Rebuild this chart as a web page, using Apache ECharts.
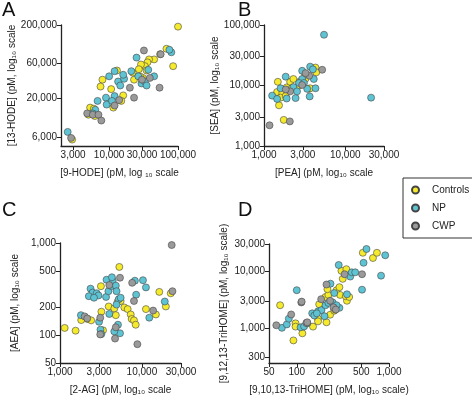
<!DOCTYPE html>
<html>
<head>
<meta charset="utf-8">
<script src="https://cdn.jsdelivr.net/npm/echarts@6/dist/echarts.min.js"></script>
<style>html,body{margin:0;padding:0;background:#fff}#app{width:472px;height:400px}</style>
</head>
<body>
<div id="app"></div>
<script>
// A: 9-HODE vs 13-HODE
var aControls = [[100000,190000],[85000,55000],[68000,95000],[55000,80000],[45000,68000],[38000,68000],[36000,62000],[33000,55000],[29000,58000],[31000,38000],[28000,40000],[23000,36000],[22000,45000],[27000,50000],[13000,48000],[10700,26800],[16000,22000],[15000,18500],[11500,15000],[8000,36000],[7500,29000],[5300,15000],[6000,14500],[5000,12000],[6200,11500],[2900,5500],[35000,48000]]
var aNP = [[2500,7000],[6300,14000],[6800,18500],[5800,12500],[10000,40000],[12000,47000],[9000,20500],[9200,16500],[12000,21500],[13500,34000],[14500,30000],[16500,37000],[16000,42000],[21000,47000],[25000,72000],[26500,40000],[29500,32000],[33000,34000],[35000,30000],[37000,49000],[45000,40000],[80000,85000],[75000,92000],[11000,18500]]
var aCWP = [[2800,5800],[4800,12500],[5800,12000],[7000,12000],[7700,10000],[12000,16000],[14000,19000],[20000,28000],[23000,20500],[32000,90000],[39000,38000],[54000,28000],[56000,80000],[30000,36000]]
// B: PEA vs SEA
var bControls = [[1480,11500],[1450,7800],[1680,7500],[1600,6300],[1850,6700],[1530,4700],[1750,2700],[1900,9300],[2100,11500],[2300,12800],[2450,8800],[2700,10000],[2800,11800],[3250,13000],[3200,15500],[3550,8800],[4000,19000],[4300,19800],[4400,16500],[3700,9000],[2200,9000]]
var bNP = [[5480,69000],[20800,6300],[1260,6800],[1450,6000],[1900,6100],[2450,6200],[3650,6600],[4300,9000],[4100,12800],[3700,20500],[4000,18500],[2950,17500],[1850,14000],[1600,9000],[2950,12800],[3400,8800],[2700,11000],[2300,9400],[2550,8000],[3100,11000]]
var bCWP = [[980,1120],[1170,2200],[2080,2550],[5200,18200],[3600,14500],[3250,16000],[2100,8000],[1850,8600],[2950,10200]]
// C: 2-AG vs AEA
var cControls = [[1140,120],[1550,112],[1815,146],[2170,150],[2400,145],[3160,340],[3200,180],[3350,113],[3930,205],[4600,195],[5300,550],[5050,230],[4800,165],[5500,235],[6100,200],[6700,192],[7300,168],[7500,150],[8000,145],[8400,130],[11200,192],[14800,168],[16300,295],[19600,205],[22500,285]]
var cNP = [[1800,165],[2360,320],[2500,290],[2250,265],[2800,285],[2950,270],[2600,255],[3000,140],[3120,115],[3200,103],[3650,260],[3900,300],[4250,340],[4400,390],[4800,345],[4900,300],[5200,245],[5500,255],[4900,215],[5100,130],[5400,105],[4600,110],[3700,400],[4300,425],[8200,390],[10300,395],[11200,330],[8500,275],[12300,155],[19000,232],[4000,170]]
var cCWP = [[2000,160],[2150,152],[3100,155],[3100,102],[4800,122],[4700,92],[5400,420],[4000,350],[7600,370],[8000,235],[8800,80],[13700,185],[23100,950],[23600,300]]
// D: 9,10,13-TriHOME vs 9,12,13-TriHOME
var dControls = [[66,2500],[92,600],[97,1200],[97,1050],[115,800],[150,1050],[170,1450],[170,1300],[175,2600],[205,3500],[220,3800],[210,1250],[230,1700],[255,2000],[270,4600],[290,5200],[305,10100],[345,10800],[315,7300],[295,3800],[350,3000],[340,3600],[370,3500],[260,2100],[520,21000],[670,17000],[740,21000],[215,4800]]
var dNP = [[69,1000],[78,1150],[82,1450],[100,4600],[110,1020],[120,1060],[130,1200],[147,1800],[155,1650],[170,1950],[185,2050],[200,1600],[205,2500],[220,2750],[245,2800],[232,6000],[255,4100],[285,12800],[290,2250],[380,8000],[395,9500],[430,9500],[350,3900],[510,4700],[530,14000],[570,24500],[910,19000],[820,8300],[270,2500],[165,1800]]
var dCWP = [[60,1110],[87,1720],[112,2800],[113,2900],[127,1220],[184,3200],[210,5800],[230,3000],[250,2300],[330,8800],[510,8800],[130,1250],[265,2100]]

var aXTicks = [3000, 10000, 30000, 100000], aYTicks = [6000, 20000, 60000, 200000]
var bXTicks = [1000, 3000, 10000, 30000], bYTicks = [1000, 3000, 10000, 30000, 100000]
var cXTicks = [1000, 3000, 10000, 30000], cYTicks = [50, 100, 200, 500, 1000]
var dXTicks = [50, 100, 200, 500, 1000], dYTicks = [300, 1000, 3000, 10000, 30000]

var colors = {Controls: '#f5ea2c', NP: '#5ec3d3', CWP: '#9a9a9a'}

var chart = echarts.init(document.getElementById('app'))

var makeAxis = (idx, min, max, ticks, name, isY) => ({
    type: 'log', gridIndex: idx, min: min, max: max, logBase: 10,
    name: name, nameLocation: 'middle', nameGap: isY ? 40 : 22,
    nameTextStyle: {fontSize: 10, color: '#222', fontFamily: 'Liberation Sans'},
    axisLine: {lineStyle: {color: '#222', width: 1.3}},
    axisTick: {length: 4, customValues: ticks, lineStyle: {color: '#222'}},
    axisLabel: {customValues: ticks, fontSize: 10, color: '#222', margin: 4, fontFamily: 'Liberation Sans'},
    splitLine: {show: false}
})

var makeSeries = (name, data, idx) => ({
    name: name, type: 'scatter', data: data, xAxisIndex: idx, yAxisIndex: idx,
    symbolSize: 7,
    itemStyle: {color: colors[name], borderColor: '#444', borderWidth: 0.6, opacity: 1}
})

chart.setOption({
    animation: false,
    grid: [
        {left: 61, top: 25, width: 117, height: 121},
        {left: 264, top: 25, width: 120, height: 121},
        {left: 60, top: 243, width: 121, height: 120},
        {left: 269, top: 244, width: 120, height: 119}
    ],
    xAxis: [
        makeAxis(0, 2000, 100000, aXTicks, '[9-HODE] (pM, log ₁₀ scale', false),
        makeAxis(1, 1000, 30000, bXTicks, '[PEA] (pM, log₁₀ scale', false),
        makeAxis(2, 1000, 30000, cXTicks, '[2-AG] (pM, log₁₀ scale', false),
        makeAxis(3, 50, 1000, dXTicks, '[9,10,13-TriHOME] (pM, log₁₀ scale)', false)
    ],
    yAxis: [
        makeAxis(0, 4500, 200000, aYTicks, '[13-HODE] (pM, log₁₀ scale', true),
        makeAxis(1, 1000, 100000, bYTicks, '[SEA] (pM, log₁₀ scale', true),
        makeAxis(2, 50, 1000, cYTicks, '[AEA] (pM, log₁₀ scale', true),
        makeAxis(3, 240, 30000, dYTicks, '[9,12,13-TriHOME] (pM, log₁₀ scale)', true)
    ],
    legend: {
        orient: 'vertical', left: 403, top: 178, width: 66,
        data: ['Controls', 'NP', 'CWP'],
        icon: 'circle', itemWidth: 7, itemHeight: 7, itemGap: 8,
        padding: [7, 8, 7, 8],
        borderColor: '#333', borderWidth: 1,
        textStyle: {fontSize: 10, color: '#222', fontFamily: 'Liberation Sans', padding: [0, 0, 0, 8]}
    },
    graphic: [
        {type: 'text', left: 2, top: 0, style: {text: 'A', fontSize: 20, fill: '#111', fontFamily: 'Liberation Sans'}},
        {type: 'text', left: 238, top: 0, style: {text: 'B', fontSize: 20, fill: '#111', fontFamily: 'Liberation Sans'}},
        {type: 'text', left: 2, top: 200, style: {text: 'C', fontSize: 20, fill: '#111', fontFamily: 'Liberation Sans'}},
        {type: 'text', left: 238, top: 200, style: {text: 'D', fontSize: 20, fill: '#111', fontFamily: 'Liberation Sans'}}
    ],
    series: [
        makeSeries('Controls', aControls, 0), makeSeries('NP', aNP, 0), makeSeries('CWP', aCWP, 0),
        makeSeries('Controls', bControls, 1), makeSeries('NP', bNP, 1), makeSeries('CWP', bCWP, 1),
        makeSeries('Controls', cControls, 2), makeSeries('NP', cNP, 2), makeSeries('CWP', cCWP, 2),
        makeSeries('Controls', dControls, 3), makeSeries('NP', dNP, 3), makeSeries('CWP', dCWP, 3)
    ]
})
</script>
</body>
</html>
